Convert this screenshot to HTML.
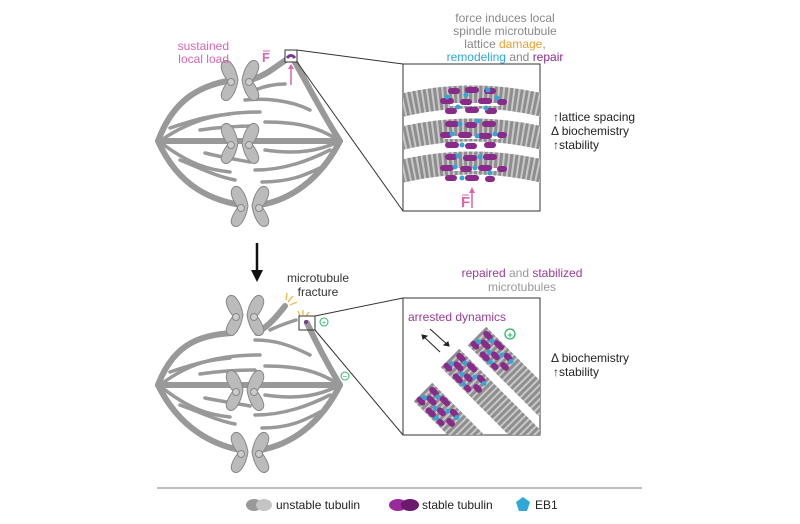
<!DOCTYPE html>
<html><head><meta charset="utf-8"><style>
html,body{margin:0;padding:0;background:#fff;}
svg{display:block;font-family:"Liberation Sans",Arial,sans-serif;}
</style></head><body>
<svg width="800" height="524" viewBox="0 0 800 524" xmlns="http://www.w3.org/2000/svg">
<defs>
<clipPath id="c1"><rect x="403" y="64" width="137" height="147"/></clipPath>
<clipPath id="c2"><rect x="403" y="298" width="137" height="137"/></clipPath>
<pattern id="stripe" patternUnits="userSpaceOnUse" width="5" height="26">
<rect width="5" height="26" fill="#c8c8c8"/><rect width="3" height="26" fill="#8e8e8e"/>
</pattern>
<g id="chrom">
<path d="M-2,0 C-4,-12 -10,-22 -16,-19 C-22,-15 -17,-5 -12,1 C-17,8 -22,17 -16,20 C-10,23 -4,12 -2,0Z" fill="#bbb" stroke="#888" stroke-width="1"/>
<path d="M2,0 C4,-12 10,-22 16,-19 C22,-15 17,-5 12,1 C17,8 22,17 16,20 C10,23 4,12 2,0Z" fill="#bbb" stroke="#888" stroke-width="1"/>
<circle cx="-9" cy="2" r="3.5" fill="#ccc" stroke="#888"/>
<circle cx="9" cy="2" r="3.5" fill="#ccc" stroke="#888"/>
</g>
<g id="band">
<rect x="0" y="-13" width="170" height="26" fill="url(#stripe)"/>
<g fill="#8a2a8a">
<rect x="2" y="-11" width="11" height="6" rx="3"/><rect x="16" y="-12" width="12" height="6" rx="3"/><rect x="32" y="-10" width="10" height="6" rx="3"/>
<rect x="6" y="-3" width="12" height="6" rx="3"/><rect x="22" y="-2" width="10" height="6" rx="3"/><rect x="36" y="-1" width="10" height="6" rx="3"/>
<rect x="0" y="5" width="10" height="6" rx="3"/><rect x="14" y="6" width="12" height="6" rx="3"/><rect x="30" y="6" width="8" height="6" rx="3"/>
</g>
<g fill="#2fa8d8">
<circle cx="14" cy="-7" r="2.5"/><circle cx="20" cy="3" r="2.5"/><circle cx="5" cy="3" r="2.5"/><circle cx="31" cy="-4" r="2.5"/><circle cx="28" cy="9" r="2.5"/><circle cx="42" cy="-6" r="2.5"/>
</g>
</g>
</defs>

<!-- TOP SPINDLE -->
<g fill="none" stroke="#999" stroke-linecap="round">
<path d="M158,141 C175,95 205,85 232,80" stroke-width="6"/>
<path d="M250,80 C270,75 282,60 292,57 C300,70 320,110 340,141" stroke-width="6"/>
<path d="M158,141 L340,141" stroke-width="6"/>
<path d="M158,141 C180,190 215,200 240,205" stroke-width="6"/>
<path d="M260,205 C290,200 320,180 340,141" stroke-width="6"/>
<g stroke-width="3.5">
<path d="M160,141 C190,120 220,112 260,112"/>
<path d="M170,128 C200,118 210,116 230,114"/>
<path d="M245,100 C265,98 290,100 310,110"/>
<path d="M265,122 C300,122 320,128 338,140"/>
<path d="M200,130 C220,127 240,126 255,126"/>
<path d="M265,150 C300,155 320,150 338,142"/>
<path d="M160,142 C190,165 210,170 230,172"/>
<path d="M180,160 C200,168 215,176 235,180"/>
<path d="M255,170 C285,170 310,160 330,150"/>
<path d="M262,182 C290,182 305,175 320,168"/>
<path d="M255,90 C265,86 275,84 285,84"/>
<path d="M205,153 C225,158 240,160 250,162"/>
</g>
</g>
<use href="#chrom" x="240" y="80"/>
<use href="#chrom" x="240" y="143"/>
<use href="#chrom" x="250" y="206"/>
<rect x="285" y="50" width="12" height="12" fill="#fff" stroke="#333" stroke-width="1"/>
<path d="M287,58 Q291,53 295,58" stroke="#7a3a8a" stroke-width="3" fill="none"/>
<line x1="291" y1="85" x2="291" y2="66" stroke="#d966b0" stroke-width="1.5"/>
<path d="M288,69 L291,64 L294,69Z" fill="#d966b0"/>
<text x="229" y="50" font-size="12" fill="#d966b0" text-anchor="end">sustained</text>
<text x="229" y="63" font-size="12" fill="#d966b0" text-anchor="end">local load</text>
<text x="262" y="62" font-size="13" font-weight="bold" fill="#d966b0">F</text>
<line x1="263" y1="51" x2="270" y2="51" stroke="#d966b0" stroke-width="1"/>
<line x1="297" y1="50" x2="403" y2="64" stroke="#333" stroke-width="1"/>
<line x1="297" y1="62" x2="403" y2="211" stroke="#333" stroke-width="1"/>

<!-- Top zoom box -->
<rect x="403" y="64" width="137" height="147" fill="#fff" stroke="#333" stroke-width="1"/>
<g clip-path="url(#c1)" fill="none">
<g stroke="#c8c8c8" stroke-width="23">
<path d="M395,107 Q472,87 550,107"/>
<path d="M395,140 Q472,120 550,140"/>
<path d="M395,173 Q472,153 550,173"/>
</g>
<g stroke="#8e8e8e" stroke-width="23" stroke-dasharray="3,2">
<path d="M395,107 Q472,87 550,107"/>
<path d="M395,140 Q472,120 550,140"/>
<path d="M395,173 Q472,153 550,173"/>
</g>
</g>
<g>
<g fill="#fff">
<rect x="450" y="103" width="50" height="3"/><rect x="445" y="136" width="55" height="3"/><rect x="448" y="168" width="50" height="3"/>
</g>
<g fill="#8a2a8a">
<rect x="448" y="88" width="12" height="6" rx="3"/><rect x="465" y="87" width="14" height="6" rx="3"/><rect x="484" y="88" width="12" height="6" rx="3"/>
<rect x="440" y="98" width="14" height="6" rx="3"/><rect x="460" y="99" width="12" height="6" rx="3"/><rect x="478" y="98" width="14" height="6" rx="3"/><rect x="497" y="99" width="10" height="6" rx="3"/>
<rect x="445" y="108" width="12" height="6" rx="3"/><rect x="465" y="107" width="14" height="6" rx="3"/><rect x="485" y="108" width="12" height="6" rx="3"/>
<rect x="445" y="121" width="14" height="6" rx="3"/><rect x="465" y="122" width="12" height="6" rx="3"/><rect x="482" y="121" width="14" height="6" rx="3"/>
<rect x="440" y="132" width="12" height="6" rx="3"/><rect x="458" y="132" width="14" height="6" rx="3"/><rect x="478" y="133" width="14" height="6" rx="3"/><rect x="497" y="132" width="10" height="6" rx="3"/>
<rect x="445" y="142" width="14" height="6" rx="3"/><rect x="465" y="143" width="12" height="6" rx="3"/><rect x="484" y="142" width="12" height="6" rx="3"/>
<rect x="445" y="154" width="12" height="6" rx="3"/><rect x="463" y="155" width="14" height="6" rx="3"/><rect x="483" y="154" width="14" height="6" rx="3"/>
<rect x="440" y="165" width="14" height="6" rx="3"/><rect x="460" y="166" width="12" height="6" rx="3"/><rect x="478" y="165" width="14" height="6" rx="3"/><rect x="497" y="166" width="10" height="6" rx="3"/>
<rect x="445" y="175" width="12" height="6" rx="3"/><rect x="465" y="175" width="14" height="6" rx="3"/><rect x="485" y="176" width="10" height="6" rx="3"/>
</g>
<g fill="#2fa8d8">
<circle cx="447" cy="97" r="2.5"/><circle cx="466" cy="95" r="2.5"/><circle cx="488" cy="90" r="2.5"/><circle cx="497" cy="98" r="2.5"/><circle cx="458" cy="107" r="2.5"/><circle cx="486" cy="108" r="2.5"/>
<circle cx="460" cy="124" r="2.5"/><circle cx="478" cy="121" r="2.5"/><circle cx="452" cy="134" r="2.5"/><circle cx="477" cy="136" r="2.5"/><circle cx="495" cy="134" r="2.5"/><circle cx="462" cy="145" r="2.5"/>
<circle cx="458" cy="156" r="2.5"/><circle cx="480" cy="157" r="2.5"/><circle cx="455" cy="167" r="2.5"/><circle cx="475" cy="168" r="2.5"/><circle cx="490" cy="173" r="2.5"/><circle cx="462" cy="178" r="2.5"/>
</g>
</g>
<text x="461" y="207" font-size="15" font-weight="bold" fill="#d966b0">F</text>
<line x1="462" y1="195" x2="469" y2="195" stroke="#d966b0"/>
<line x1="472" y1="208" x2="472" y2="190" stroke="#d966b0" stroke-width="1.5"/>
<path d="M469,193 L472,187 L475,193Z" fill="#d966b0"/>

<text x="505" y="22" font-size="12" fill="#888" text-anchor="middle">force induces local</text>
<text x="505" y="35" font-size="12" fill="#888" text-anchor="middle">spindle microtubule</text>
<text x="505" y="48" font-size="12" fill="#888" text-anchor="middle">lattice <tspan fill="#e8a030">damage</tspan>,</text>
<text x="505" y="61" font-size="12" fill="#2fa8d8" text-anchor="middle">remodeling <tspan fill="#888">and</tspan> <tspan fill="#8a2a8a">repair</tspan></text>
<g font-size="12" fill="#222">
<text x="553" y="121">↑lattice spacing</text>
<text x="551" y="135">Δ biochemistry</text>
<text x="553" y="149">↑stability</text>
</g>

<!-- ARROW -->
<line x1="257" y1="243" x2="257" y2="272" stroke="#111" stroke-width="2.5"/>
<path d="M251,270 L257,282 L263,270Z" fill="#111"/>

<!-- BOTTOM SPINDLE -->
<g fill="none" stroke="#999" stroke-linecap="round">
<path d="M158,385 C175,340 205,335 232,333" stroke-width="6"/>
<path d="M257,333 C270,325 278,315 285,306" stroke-width="6"/>
<path d="M307,323 C315,340 325,360 340,385" stroke-width="6"/>
<path d="M158,385 L340,385" stroke-width="6"/>
<path d="M158,385 C180,430 215,445 240,450" stroke-width="6"/>
<path d="M260,450 C290,445 320,425 340,385" stroke-width="6"/>
<g stroke-width="3.5">
<path d="M160,385 C190,362 220,355 260,355"/>
<path d="M170,372 C200,362 210,360 230,358"/>
<path d="M255,340 C275,340 290,345 310,355"/>
<path d="M265,366 C300,366 320,372 338,384"/>
<path d="M200,374 C220,371 240,370 255,370"/>
<path d="M265,395 C300,400 320,395 338,386"/>
<path d="M160,386 C190,410 210,415 230,417"/>
<path d="M180,405 C200,412 215,420 235,424"/>
<path d="M255,415 C285,415 310,405 330,395"/>
<path d="M262,428 C290,428 305,420 320,412"/>
<path d="M270,330 C280,325 290,322 296,320"/>
<path d="M205,398 C225,402 240,404 250,406"/>
</g>
</g>
<use href="#chrom" x="245" y="315"/>
<use href="#chrom" x="245" y="390"/>
<use href="#chrom" x="250" y="452"/>
<g stroke="#f0b040" stroke-width="1.2">
<line x1="288" y1="302" x2="293" y2="296"/><line x1="290" y1="305" x2="297" y2="302"/><line x1="286" y1="300" x2="287" y2="293"/>
<line x1="300" y1="316" x2="298" y2="311"/><line x1="303" y1="315" x2="303" y2="310"/><line x1="306" y1="316" x2="309" y2="312"/>
</g>
<rect x="299" y="316" width="16" height="14" fill="none" stroke="#333" stroke-width="1"/>
<circle cx="306" cy="322" r="2" fill="#7a3a8a"/>
<circle cx="324" cy="322" r="4" fill="none" stroke="#2cb56a" stroke-width="1"/>
<text x="324" y="325" font-size="7" fill="#2cb56a" text-anchor="middle">+</text>
<circle cx="345" cy="376" r="4" fill="none" stroke="#2cb56a" stroke-width="1"/>
<text x="345" y="379" font-size="8" fill="#2cb56a" text-anchor="middle">−</text>
<line x1="315" y1="316" x2="403" y2="298" stroke="#333" stroke-width="1"/>
<line x1="315" y1="330" x2="403" y2="435" stroke="#333" stroke-width="1"/>
<text x="318" y="282" font-size="12" fill="#333" text-anchor="middle">microtubule</text>
<text x="318" y="296" font-size="12" fill="#333" text-anchor="middle">fracture</text>

<!-- Bottom zoom box -->
<rect x="403" y="298" width="137" height="137" fill="#fff" stroke="#333" stroke-width="1"/>
<g clip-path="url(#c2)">
<use href="#band" transform="translate(423,392) rotate(45)"/>
<use href="#band" transform="translate(450,358) rotate(45)"/>
<use href="#band" transform="translate(477,336) rotate(45)"/>
</g>
<text x="408" y="321" font-size="12" fill="#9a3a96">arrested dynamics</text>
<circle cx="510" cy="334" r="5" fill="#fff" stroke="#2cb56a" stroke-width="1.3"/>
<text x="510" y="338" font-size="9" fill="#2cb56a" text-anchor="middle" font-weight="bold">+</text>
<g stroke="#222" stroke-width="1">
<line x1="422" y1="335" x2="440" y2="352"/><path d="M422,335 l5,1 l-4,3z" fill="#222"/>
<line x1="430" y1="329" x2="449" y2="346"/><path d="M449,346 l-5,-1 l4,-3z" fill="#222"/>
</g>
<text x="522" y="277" font-size="12" fill="#9a3a96" text-anchor="middle">repaired <tspan fill="#999">and</tspan> stabilized</text>
<text x="522" y="291" font-size="12" fill="#999" text-anchor="middle">microtubules</text>
<g font-size="12" fill="#222">
<text x="551" y="362">Δ biochemistry</text>
<text x="553" y="376">↑stability</text>
</g>

<!-- legend -->
<line x1="157" y1="488" x2="642" y2="488" stroke="#999" stroke-width="1.2"/>
<ellipse cx="254" cy="505" rx="8" ry="6" fill="#999"/>
<ellipse cx="264" cy="505" rx="8" ry="6" fill="#c4c4c4"/>
<text x="276" y="509" font-size="12" fill="#222">unstable tubulin</text>
<ellipse cx="398" cy="505" rx="9" ry="6" fill="#9a2a9a"/>
<ellipse cx="410" cy="505" rx="9" ry="6" fill="#6a1a6a"/>
<text x="422" y="509" font-size="12" fill="#222">stable tubulin</text>
<path d="M523,497 L530,502 L527,511 L519,511 L516,502Z" fill="#2fa8d8"/>
<text x="535" y="509" font-size="12" fill="#222">EB1</text>
</svg>
</body></html>
